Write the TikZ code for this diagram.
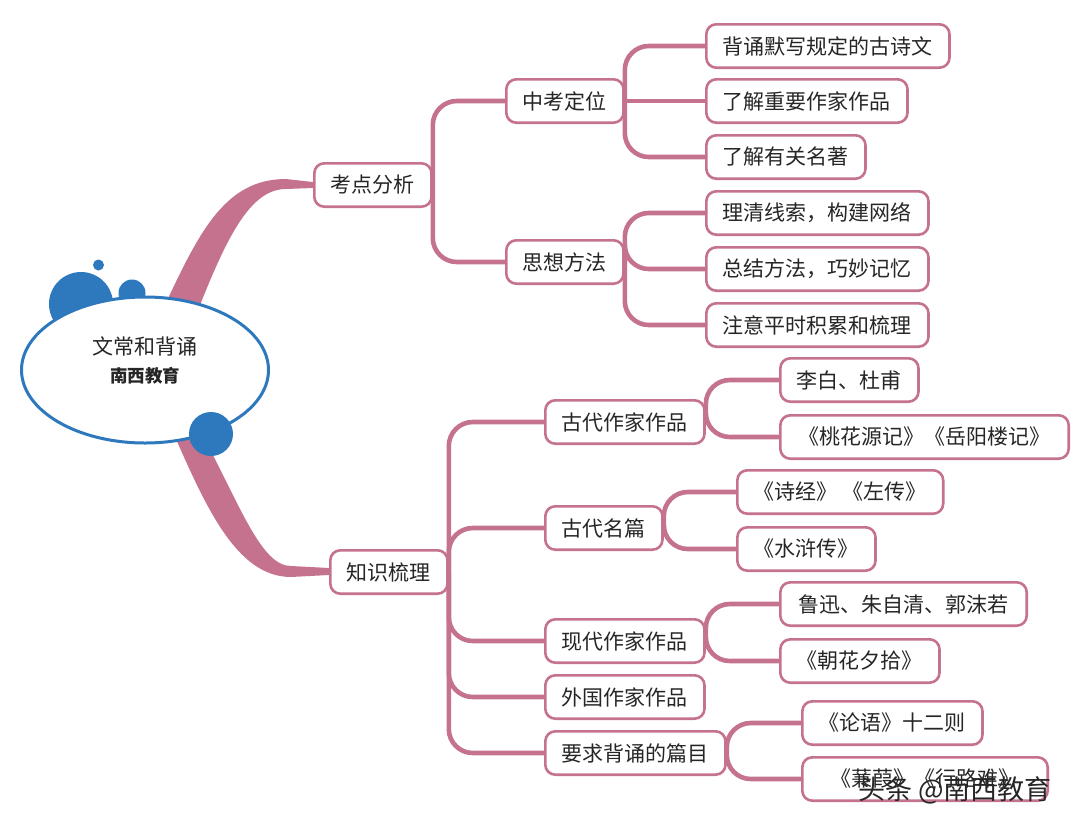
\documentclass[tikz,border=0pt]{standalone}
\usepackage{fontspec}
\setmainfont{Noto Sans CJK SC}
\usetikzlibrary{shapes.geometric,calc}
\definecolor{rosepink}{RGB}{197,114,142}
\definecolor{dotblue}{RGB}{46,120,190}
\definecolor{inkgrey}{RGB}{38,38,38}
\tikzstyle{hub} = [ellipse, draw=dotblue, line width=1.5pt, fill=white, minimum width=123.5pt, minimum height=73pt, align=center, text=inkgrey, font=\fontsize{10.5}{14}\selectfont]
\tikzstyle{topic} = [rectangle, rounded corners=5pt, draw=rosepink, line width=1.3pt, fill=white, minimum height=21.7pt, inner xsep=8.3pt, anchor=west, text=inkgrey, font=\fontsize{10.5}{12}\selectfont]
\tikzstyle{link} = [draw=rosepink, line width=2.3pt, rounded corners=12pt]
\tikzstyle{branch} = [fill=rosepink]
\tikzstyle{dot} = [fill=dotblue]

\begin{document}
\begin{tikzpicture}[x=0.5pt, y=-0.5pt]
	\useasboundingbox (0,0) rectangle (1080,830);
	\coordinate (hub) at (145,370);
	%bubbles behind the title
	\fill [dot] (81,304) circle (16pt);
	\fill [dot] (132,293) circle (6.75pt);
	\fill [dot] (98.5,265) circle (2.75pt);
	\node (kd) [topic] at (313,185) {考点分析};
	\node (kz) [topic] at (329,572) {知识梳理};
	%main branches
	\fill [branch] ($(hub)+(20,-65)$) .. controls +(35,-75) and +(-60,0) .. ($(kd.west)+(-27,-6)$) -- ($(kd.west)+(0,-3)$) -- ($(kd.west)+(0,3)$) -- ($(kd.west)+(-27,4)$) .. controls +(-35,0) and +(28,-70) .. ($(hub)+(55,-65)$) -- cycle;
	\fill [branch] ($(hub)+(27,60)$) .. controls +(33,75) and +(-55,0) .. ($(kz.west)+(-38,5)$) -- ($(kz.west)+(0,3)$) -- ($(kz.west)+(0,-4)$) -- ($(kz.west)+(-38,-6)$) .. controls +(-30,0) and +(40,75) .. ($(hub)+(55,60)$) -- cycle;
	\node (root) [hub] at (hub) {文常和背诵\\{\fontsize{8.75}{11}\selectfont\bfseries 南西教育}\\[-4pt]};
	\fill [dot] (211,434) circle (11pt);
	\node (zk) [topic] at (505,101) {中考定位};
	\node (sx) [topic] at (505,262) {思想方法};
	\node (gz) [topic] at (544,422) {古代作家作品};
	\node (gm) [topic] at (544,528) {古代名篇};
	\node (xz) [topic] at (544,641) {现代作家作品};
	\node (wz) [topic] at (544,697) {外国作家作品};
	\node (yq) [topic] at (544,753) {要求背诵的篇目};
	\node (a1) [topic] at (705,46) {背诵默写规定的古诗文};
	\node (a2) [topic] at (705,101) {了解重要作家作品};
	\node (a3) [topic] at (705,157) {了解有关名著};
	\node (b1) [topic] at (705,213) {理清线索，构建网络};
	\node (b2) [topic] at (705,269) {总结方法，巧妙记忆};
	\node (b3) [topic] at (705,325) {注意平时积累和梳理};
	\node (c1) [topic] at (779,380) {李白、杜甫};
	\node (c2) [topic, minimum width=144.2pt] at (779,437) {《桃花源记》《岳阳楼记》};
	\node (d1) [topic, minimum width=101.7pt] at (736,492) {《诗经》 《左传》};
	\node (d2) [topic] at (736,549) {《水浒传》};
	\node (e1) [topic, minimum width=123.2pt] at (779,604) {鲁迅、朱自清、郭沫若};
	\node (e2) [topic] at (779,661) {《朝花夕拾》};
	\node (f1) [topic] at (801,723) {《论语》十二则};
	\node (f2) [topic, minimum width=122.7pt] at (801,779) {《蒹葭》《行路难》};
	%lines
	\draw [link] (kd.east) |- (zk.west);
	\draw [link] (kd.east) |- (sx.west);
	\draw [link] (zk.east) |- (a1.west);
	\draw [link] (zk.east) -- (a2.west);
	\draw [link] (zk.east) |- (a3.west);
	\draw [link] (sx.east) |- (b1.west);
	\draw [link] (sx.east) |- (b2.west);
	\draw [link] (sx.east) |- (b3.west);
	\draw [link] (kz.east) |- (gz.west);
	\draw [link] (kz.east) |- (gm.west);
	\draw [link] (kz.east) |- (xz.west);
	\draw [link] (kz.east) |- (wz.west);
	\draw [link] (kz.east) |- (yq.west);
	\draw [link] (gz.east) |- (c1.west);
	\draw [link] (gz.east) |- (c2.west);
	\draw [link] (gm.east) |- (d1.west);
	\draw [link] (gm.east) |- (d2.west);
	\draw [link] (xz.east) |- (e1.west);
	\draw [link] (xz.east) |- (e2.west);
	\draw [link] (yq.east) |- (f1.west);
	\draw [link] (yq.east) |- (f2.west);
	\node (mark) at (955,790) [text=inkgrey, font=\fontsize{13.5}{15}\selectfont] {头条 @南西教育};
\end{tikzpicture}
\end{document}
